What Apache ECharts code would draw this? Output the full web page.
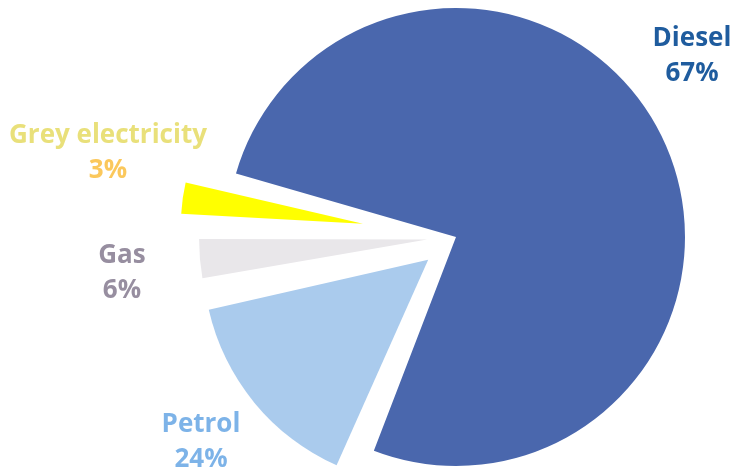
<!DOCTYPE html>
<html>
<head>
<meta charset="utf-8">
<script src="https://cdn.jsdelivr.net/npm/echarts@6/dist/echarts.min.js"></script>
<style>
  html, body { margin: 0; padding: 0; background: #fff; }
  #chart { width: 735px; height: 471px; }
</style>
</head>
<body>
<div id="chart"></div>
<script>
// categories, clockwise starting at the upper-left edge of the big slice
const categories = ['Diesel', 'Petrol', 'Gas', 'Grey electricity']
// share of the circle each slice takes as drawn (%)
const drawnShares = [77.2, 15.6, 3.6, 3.6]
// share printed in the labels
const labelShares = ['67%', '24%', '6%', '3%']

const sliceColors = ['#4a67ad', '#aacbed', '#e9e7ea', '#ffff00']
const nameColors = ['#1f5c9e', '#7db3e8', '#978ea0', '#e9e07a']
const pctColors = ['#1f5c9e', '#7db3e8', '#978ea0', '#fbc85c']
// how far each slice is pulled out of the pie, and its radius
const explode = [0, 36, 29, 94]
const radii = [229, 225, 228, 182]
const labelAt = [[692, 56], [201, 442], [122, 273], [108, 153]]

const cx = 456
const cy = 237
const startAngle = 165.4
const padAngle = 3
const font = '"Open Sans", "DejaVu Sans", sans-serif'

const total = drawnShares.reduce((a, b) => a + b, 0)
let acc = 0
const midAngles = drawnShares.map(v => {
  const m = startAngle - (acc + v / 2) / total * 360
  acc += v
  return m * Math.PI / 180
})

const series = categories.map((name, i) => ({
  type: 'pie',
  center: [cx + explode[i] * Math.cos(midAngles[i]), cy - explode[i] * Math.sin(midAngles[i])],
  radius: [0, radii[i]],
  startAngle: startAngle,
  padAngle: padAngle,
  clockwise: true,
  silent: true,
  animation: false,
  avoidLabelOverlap: false,
  emphasis: { disabled: true },
  labelLine: { show: false },
  itemStyle: { borderWidth: 0 },
  label: {
    position: 'outside',
    overflow: 'none',
    formatter: '{n|' + name + '}\n{p|' + labelShares[i] + '}',
    rich: {
      n: { color: nameColors[i], fontSize: 26, fontWeight: 'bold', fontFamily: font, lineHeight: 35, align: 'center' },
      p: { color: pctColors[i], fontSize: 26, fontWeight: 'bold', fontFamily: font, lineHeight: 35, align: 'center' }
    }
  },
  labelLayout: () => ({
    x: labelAt[i][0],
    y: labelAt[i][1],
    width: 240,
    align: 'center',
    verticalAlign: 'middle',
    hideOverlap: false
  }),
  data: categories.map((n, j) => ({
    name: n,
    value: drawnShares[j],
    itemStyle: { color: j === i ? sliceColors[j] : 'rgba(0,0,0,0)', borderWidth: 0 },
    label: { show: j === i }
  }))
}))

const chart = echarts.init(document.getElementById('chart'))
chart.setOption({
  backgroundColor: '#ffffff',
  series: series
})
</script>
</body>
</html>
